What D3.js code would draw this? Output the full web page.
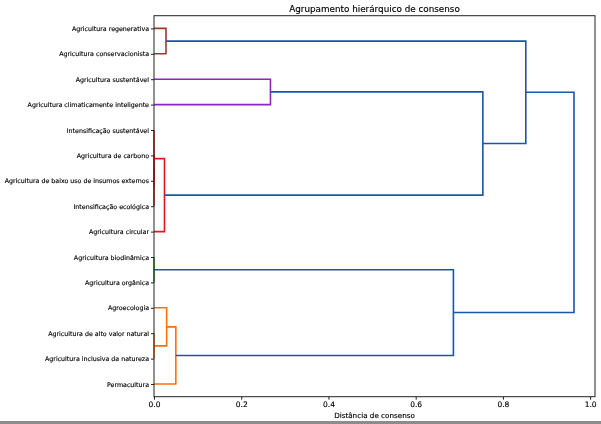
<!DOCTYPE html>
<html>
<head>
<meta charset="utf-8">
<script src="https://cdn.jsdelivr.net/npm/d3@7"></script>
<style>
  html, body { margin: 0; padding: 0; background: #fff; }
  svg { display: block; will-change: transform; }
  text { font-family: "DejaVu Sans", sans-serif; fill: #000; stroke: #000; stroke-width: 0.15px; }
</style>
</head>
<body>
<script>
// Leaves in dendrogram order, from bottom (index 0) to top
const leaves = [
  "Permacultura",
  "Agricultura inclusiva da natureza",
  "Agricultura de alto valor natural",
  "Agroecologia",
  "Agricultura orgânica",
  "Agricultura biodinâmica",
  "Agricultura circular",
  "Intensificação ecológica",
  "Agricultura de baixo uso de insumos externos",
  "Agricultura de carbono",
  "Intensificação sustentável",
  "Agricultura climaticamente inteligente",
  "Agricultura sustentável",
  "Agricultura conservacionista",
  "Agricultura regenerativa"
];
// Linkage: child A, child B (ids; leaves 0..14, new nodes 15..), distance
const linkA = [9, 15, 10, 17, 5, 2, 3, 21, 14, 12, 19, 24, 23, 27];
const linkB = [8, 7, 16, 6, 4, 1, 20, 0, 13, 11, 22, 18, 26, 25];
const linkDist = [0.0, 0.0, 0.0, 0.024, 0.0, 0.0, 0.029, 0.05, 0.0275, 0.267, 0.6865, 0.754, 0.8525, 0.963];
const xTicks = [0.0, 0.2, 0.4, 0.6, 0.8, 1.0];
const title = "Agrupamento hierárquico de consenso";
const xLabel = "Distância de consenso";

const W = 601, H = 424;
const m = { left: 154, right: 595, top: 15.7, bottom: 396.7 };
const palette = ["#ff6f0a", "#2a962a", "#e5151b", "#8e24c2", "#9a3a30"];
const aboveColor = "#1b56a8";

const svg = d3.select("body").append("svg").attr("width", W).attr("height", H);

const n = leaves.length;
const maxD = d3.max(linkDist);
const x = d3.scaleLinear().domain([0, maxD * 1.05]).range([m.left, m.right]);
const y = d3.scaleLinear().domain([0, n * 10]).range([m.bottom, m.top]);

// compute node positions
const nodeY = leaves.map((_, i) => 5 + 10 * i);
const nodeD = leaves.map(() => 0);
const nodeLeaves = leaves.map((_, i) => [i]);
linkA.forEach((a, k) => {
  const b = linkB[k];
  nodeY.push((nodeY[a] + nodeY[b]) / 2);
  nodeD.push(linkDist[k]);
  nodeLeaves.push(nodeLeaves[a].concat(nodeLeaves[b]));
});

// color clusters below threshold (scipy style)
const threshold = 0.7 * maxD;
const clusters = [];
for (let id = nodeY.length - 1; id >= n; id--) {
  const k = id - n;
  if (linkDist[k] < threshold) {
    const isSub = clusters.some(c => nodeLeaves[c].includes(nodeLeaves[id][0]));
    if (!isSub) clusters.push(id);
  }
}
clusters.sort((p, q) => d3.min(nodeLeaves[p]) - d3.min(nodeLeaves[q]));
const leafCluster = {};
clusters.forEach((c, ci) => nodeLeaves[c].forEach(l => leafCluster[l] = ci));

const g = svg.append("g");
linkA.forEach((a, k) => {
  const b = linkB[k];
  const d = linkDist[k];
  const col = d < threshold ? palette[leafCluster[nodeLeaves[a][0]] % palette.length] : aboveColor;
  const pts = [
    [nodeD[a], nodeY[a]],
    [d, nodeY[a]],
    [d, nodeY[b]],
    [nodeD[b], nodeY[b]]
  ];
  g.append("path")
    .attr("d", d3.line().x(p => x(p[0])).y(p => y(p[1]))(pts))
    .attr("fill", "none")
    .attr("stroke", col)
    .attr("stroke-width", 1.6);
});

// Frame
svg.append("rect")
  .attr("x", m.left).attr("y", m.top)
  .attr("width", m.right - m.left).attr("height", m.bottom - m.top)
  .attr("fill", "none").attr("stroke", "#222").attr("stroke-width", 1);

// x axis
const xAxis = d3.axisBottom(x).tickValues(xTicks).tickFormat(d3.format(".1f")).tickSize(3).tickPadding(2);
const gx = svg.append("g").attr("transform", `translate(0,${m.bottom})`).call(xAxis);
gx.select(".domain").remove();
gx.selectAll("line").attr("stroke", "#222");
gx.selectAll("text").attr("fill", "#000").style("font-size", "7.5px");

// y axis
const yAxis = d3.axisLeft(y).tickValues(leaves.map((_, i) => 5 + 10 * i))
  .tickFormat((d, i) => leaves[i]).tickSize(3).tickPadding(2);
const gy = svg.append("g").attr("transform", `translate(${m.left},0)`).call(yAxis);
gy.select(".domain").remove();
gy.selectAll("line").attr("stroke", "#222");
gy.selectAll("text").attr("fill", "#000").style("font-size", "6.3px");

// titles
svg.append("text").attr("x", (m.left + m.right) / 2).attr("y", 12)
  .attr("text-anchor", "middle").style("font-size", "8.8px").text(title);
svg.append("text").attr("x", (m.left + m.right) / 2).attr("y", 418)
  .attr("text-anchor", "middle").style("font-size", "7.2px").text(xLabel);

// bottom grey edge
svg.append("rect").attr("x", 0).attr("y", 421).attr("width", W).attr("height", 3).attr("fill", "#8c8c8c");
</script>
</body>
</html>
